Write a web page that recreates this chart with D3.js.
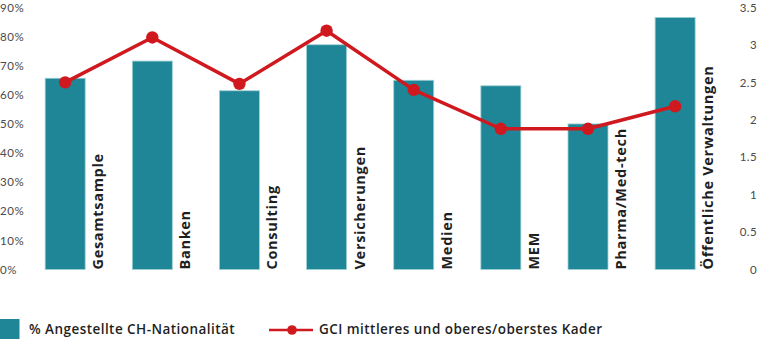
<!DOCTYPE html>
<html>
<head>
<meta charset="utf-8">
<script src="https://cdn.jsdelivr.net/npm/d3@7"></script>
<style>
  html, body { margin: 0; padding: 0; background: #fff; }
  svg { display: block; }
</style>
</head>
<body>
<svg id="chart" width="768" height="339"></svg>
<script>
// Branches and their figures
const categories = ["Gesamtsample", "Banken", "Consulting", "Versicherungen", "Medien", "MEM", "Pharma/Med-tech", "Öffentliche Verwaltungen"];
const shareCH = [65.7, 71.6, 61.4, 77.2, 65.0, 63.1, 50.0, 86.6];   // % Angestellte CH-Nationalität
const gciKader = [2.50, 3.10, 2.48, 3.19, 2.40, 1.88, 1.88, 2.18]; // GCI mittleres und oberes/oberstes Kader
const leftTicks = [0, 10, 20, 30, 40, 50, 60, 70, 80, 90];
const rightTicks = [0, 0.5, 1, 1.5, 2, 2.5, 3, 3.5];
const legendLabels = ["% Angestellte CH-Nationalität", "GCI mittleres und oberes/oberstes Kader"];

const teal = "#1e8696";
const red = "#d0191e";
const tickColor = "#4a4a4a";

const svg = d3.select("#chart");

const x = d3.scaleBand()
  .domain(categories)
  .range([21.6, 718.7])
  .paddingInner(0.541)
  .paddingOuter(0.2705);

const yLeft = d3.scaleLinear().domain([0, 90]).range([269.5, 7.5]);
const yRight = d3.scaleLinear().domain([0, 3.5]).range([269.5, 7.5]);

// Left axis: percentage labels, left aligned
const leftAxis = d3.axisLeft(yLeft).tickValues(leftTicks).tickFormat(d => d + "%").tickSize(0);
const gl = svg.append("g").call(leftAxis);
gl.select(".domain").remove();
gl.selectAll("text")
  .attr("x", 0)
  .attr("text-anchor", "start")
  .attr("fill", tickColor)
  .style("font-family", "Lato, sans-serif")
  .style("font-size", "11.5px")
  .style("letter-spacing", "0.6px");

// Right axis: GCI scale, right aligned
const rightAxis = d3.axisRight(yRight).tickValues(rightTicks).tickFormat(d => d3.format("")(d)).tickSize(0);
const gr = svg.append("g").attr("transform", "translate(757,0)").call(rightAxis);
gr.select(".domain").remove();
gr.selectAll("text")
  .attr("x", 0)
  .attr("text-anchor", "end")
  .attr("fill", tickColor)
  .style("font-family", "Lato, sans-serif")
  .style("font-size", "11.5px")
  .style("letter-spacing", "0.4px");

// Bars
svg.append("g").selectAll("rect")
  .data(categories)
  .join("rect")
  .attr("x", d => x(d))
  .attr("y", (d, i) => yLeft(shareCH[i]))
  .attr("width", x.bandwidth())
  .attr("height", (d, i) => yLeft(0) - yLeft(shareCH[i]))
  .attr("fill", teal)
  .attr("stroke", "#9fd0d6")
  .attr("stroke-width", 0.8);

// Category labels, rotated, next to each bar
svg.append("g").selectAll("text")
  .data(categories)
  .join("text")
  .attr("transform", d => `translate(${x(d) + x.bandwidth() + 18},269.5) rotate(-90)`)
  .attr("text-anchor", "start")
  .attr("fill", "#1f1f1f")
  .style("font-family", "'Open Sans', sans-serif")
  .style("font-weight", "700")
  .style("font-size", "14.5px")
  .style("letter-spacing", "0.7px")
  .text(d => d);

// GCI line
const cx = d => x(d) + x.bandwidth() / 2;
const line = d3.line()
  .x(d => cx(d.c))
  .y(d => yRight(d.v));
const pts = categories.map((c, i) => ({ c, v: gciKader[i] }));
svg.append("path")
  .datum(pts)
  .attr("d", line)
  .attr("fill", "none")
  .attr("stroke", red)
  .attr("stroke-width", 3.5)
  .attr("stroke-linejoin", "round");
svg.append("g").selectAll("circle")
  .data(pts)
  .join("circle")
  .attr("cx", d => cx(d.c))
  .attr("cy", d => yRight(d.v))
  .attr("r", 6.2)
  .attr("fill", red);

// Legend
const lg = svg.append("g");
lg.append("rect").attr("x", 0).attr("y", 319).attr("width", 19.5).attr("height", 20).attr("fill", teal);
lg.append("text").attr("x", 29).attr("y", 334)
  .attr("fill", "#1f1f1f")
  .style("font-family", "'Open Sans', sans-serif")
  .style("font-weight", "600")
  .style("font-size", "13.5px")
  .style("letter-spacing", "0.45px")
  .text(legendLabels[0]);
lg.append("line").attr("x1", 269).attr("x2", 313).attr("y1", 330).attr("y2", 330)
  .attr("stroke", red).attr("stroke-width", 2.5);
lg.append("circle").attr("cx", 292).attr("cy", 330).attr("r", 4.8).attr("fill", red);
lg.append("text").attr("x", 319).attr("y", 334)
  .attr("fill", "#1f1f1f")
  .style("font-family", "'Open Sans', sans-serif")
  .style("font-weight", "600")
  .style("font-size", "13.5px")
  .style("letter-spacing", "0.45px")
  .text(legendLabels[1]);
</script>
</body>
</html>
